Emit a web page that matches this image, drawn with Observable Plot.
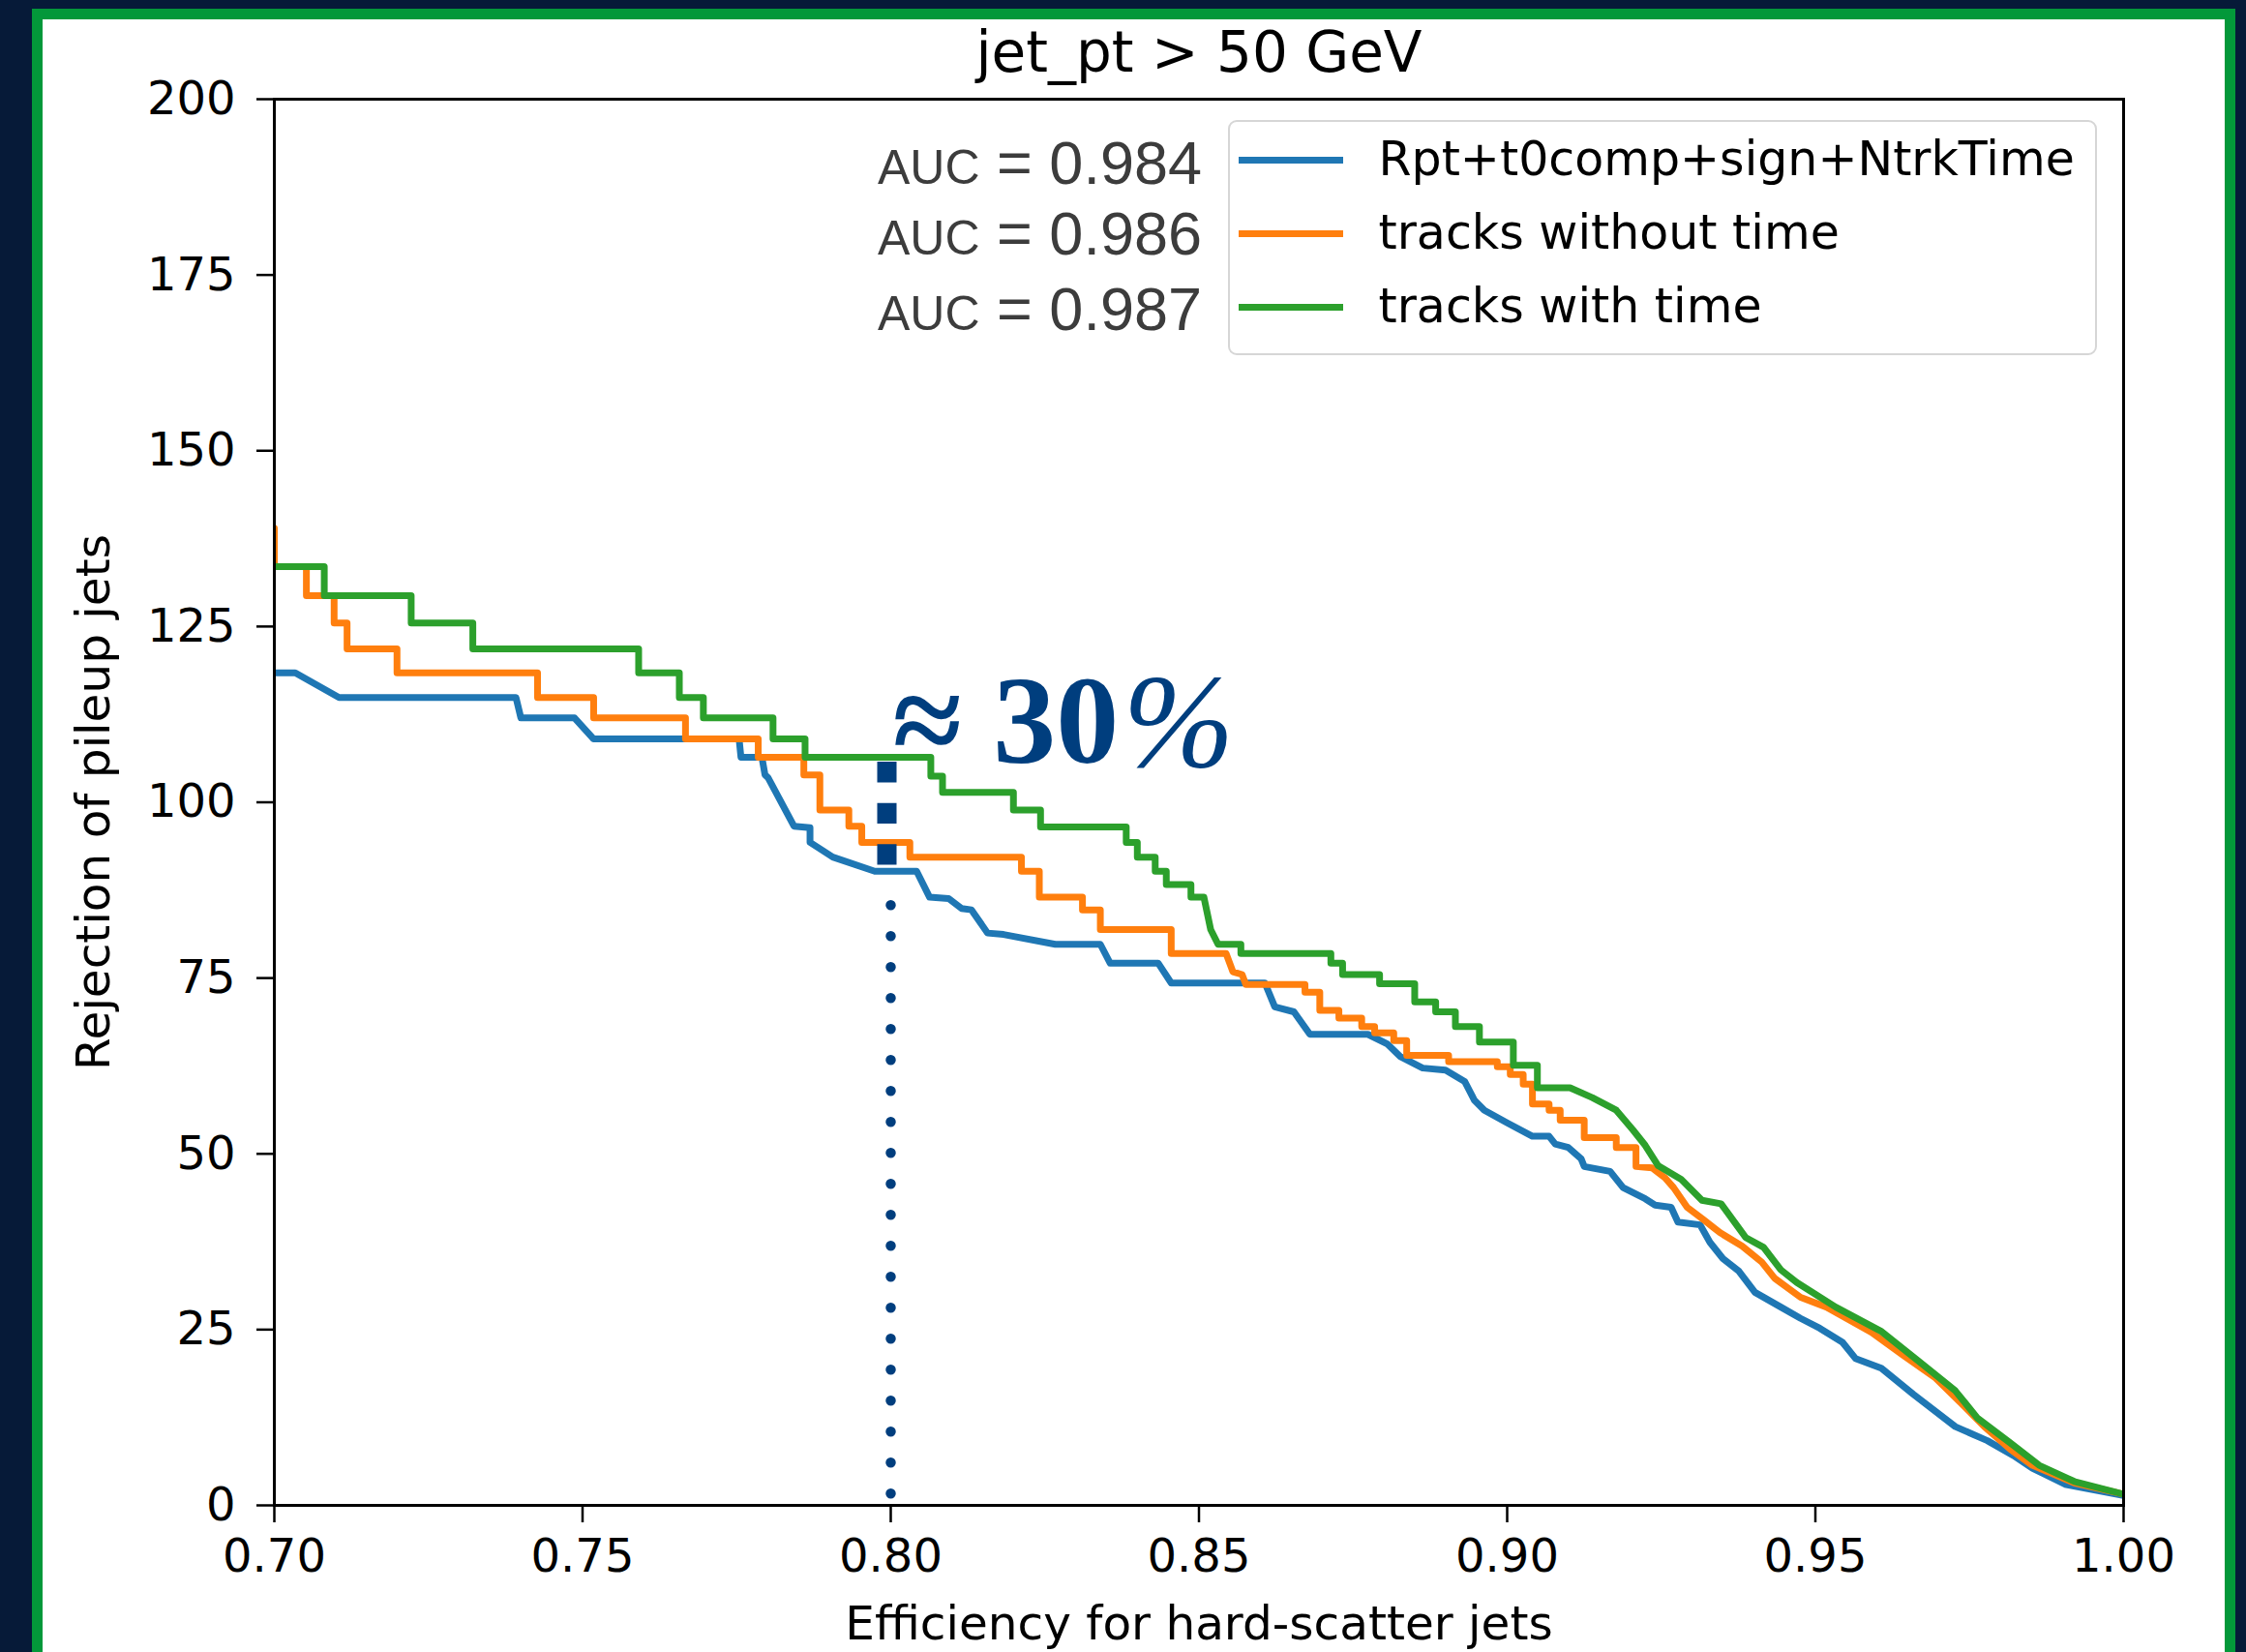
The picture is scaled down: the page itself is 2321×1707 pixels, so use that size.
<!DOCTYPE html>
<html>
<head>
<meta charset="utf-8">
<script src="https://cdn.jsdelivr.net/npm/d3@7"></script>
<script src="https://cdn.jsdelivr.net/npm/@observablehq/plot@0.6"></script>
<style>
  html, body { margin: 0; padding: 0; }
  body {
    width: 2321px; height: 1707px; position: relative; overflow: hidden;
    background: #061a38;
    font-family: "DejaVu Sans", sans-serif;
  }
  #panel {
    position: absolute; left: 33px; top: 9px; width: 2277px; height: 1760px;
    box-sizing: border-box; border: 11px solid #03983a; background: #ffffff;
  }
  #chart { position: absolute; left: 44px; top: 20px; width: 2255px; }
  #legend {
    position: absolute; left: 1269px; top: 124px; width: 898px; height: 243px;
    box-sizing: border-box; border: 2.5px solid #d6d6d6; border-radius: 9px;
    background: rgba(255, 255, 255, 0.8);
  }
  #legend .swatch { position: absolute; left: 8.5px; width: 108px; height: 7.5px; }
  #legend .label {
    position: absolute; left: 153.5px; white-space: nowrap;
    font-family: "DejaVu Sans", sans-serif; font-size: 49px; line-height: 1; color: #000;
  }
  .auc {
    position: absolute; right: 1079px; white-space: nowrap; text-align: right;
    font-family: "Liberation Sans", Arial, sans-serif; font-size: 63px; line-height: 1; color: #3c3c3c;
  }
  .auc .key { font-size: 50px; }
</style>
</head>
<body>
<div id="panel"></div>
<div id="chart"></div>
<script>
// Axis ticks
const xTicks = [0.70, 0.75, 0.80, 0.85, 0.90, 0.95, 1.00];
const yTicks = [0, 25, 50, 75, 100, 125, 150, 175, 200];

// Series
const seriesNames = ["Rpt+t0comp+sign+NtrkTime", "tracks without time", "tracks with time"];
const seriesColors = ["#1f77b4", "#ff7f0e", "#2ca02c"];
const aucValues = [0.984, 0.986, 0.987];

// ROC curves: [hard-scatter efficiency, pileup rejection]
const rptCurve = [
  [0.700,118.4],[0.7034,118.4],[0.7105,114.9],[0.7392,114.9],[0.7400,112.0],[0.7487,112.0],
  [0.7518,109.0],[0.7754,109.0],[0.7757,106.4],[0.7791,106.4],[0.7796,103.9],[0.7801,103.5],
  [0.7843,96.6],[0.7869,96.4],[0.7869,94.3],[0.7906,92.2],[0.7974,90.2],[0.8042,90.2],
  [0.8063,86.5],[0.8094,86.3],[0.8115,84.9],[0.8131,84.7],[0.8157,81.4],[0.8183,81.2],
  [0.8267,79.8],[0.8340,79.8],[0.8356,77.1],[0.8434,77.1],[0.8455,74.3],[0.8607,74.3],
  [0.8623,70.9],[0.8654,70.2],[0.8680,67.0],[0.8774,67.0],[0.8806,65.6],[0.8827,63.8],
  [0.8863,62.2],[0.8900,61.9],[0.8931,60.3],[0.8947,57.6],[0.8963,56.2],[0.9000,54.4],
  [0.9041,52.5],[0.9068,52.5],[0.9078,51.4],[0.9099,50.9],[0.9120,49.3],[0.9125,48.2],
  [0.9167,47.5],[0.9188,45.2],[0.9224,43.6],[0.9240,42.7],[0.9266,42.4],[0.9277,40.3],
  [0.9313,39.9],[0.9329,37.4],[0.9350,35.1],[0.9376,33.3],[0.9402,30.3],[0.9444,28.2],
  [0.9476,26.6],[0.9507,25.2],[0.9544,23.2],[0.9565,20.9],[0.9607,19.5],[0.9659,15.8],
  [0.9727,11.2],[0.9779,9.2],[0.9821,7.1],[0.9852,5.3],[0.9905,3.0],[1.000,1.4]
];
const noTimeCurve = [
  [0.700,139.0],[0.700,133.5],[0.7052,133.5],[0.7052,129.4],[0.7097,129.4],[0.7097,125.5],
  [0.7118,125.5],[0.7118,121.8],[0.7199,121.8],[0.7199,118.4],[0.7427,118.4],[0.7427,114.9],
  [0.7518,114.9],[0.7518,112.0],[0.7667,112.0],[0.7667,109.0],[0.7785,109.0],[0.7785,106.4],
  [0.7859,106.4],[0.7859,103.9],[0.7885,103.9],[0.7885,98.9],[0.7932,98.9],[0.7932,96.6],
  [0.7953,96.6],[0.7953,94.3],[0.8031,94.3],[0.8031,92.2],[0.8212,92.2],[0.8212,90.2],
  [0.8241,90.2],[0.8241,86.5],[0.8311,86.5],[0.8311,84.7],[0.8340,84.7],[0.8340,81.9],
  [0.8455,81.9],[0.8455,78.5],[0.8544,78.5],[0.8555,75.9],[0.8570,75.5],[0.8576,74.1],
  [0.8672,74.1],[0.8672,73.0],[0.8696,73.0],[0.8696,70.4],[0.8727,70.4],[0.8727,69.3],
  [0.8764,69.3],[0.8764,68.1],[0.8785,68.1],[0.8785,67.2],[0.8816,67.2],[0.8816,66.1],
  [0.8837,66.1],[0.8837,64.0],[0.8905,64.0],[0.8905,63.1],[0.8984,63.1],[0.8984,62.4],
  [0.9005,62.4],[0.9005,61.3],[0.9026,61.3],[0.9026,59.9],[0.9041,59.9],[0.9041,57.1],
  [0.9068,57.1],[0.9068,56.2],[0.9086,56.2],[0.9086,54.8],[0.9125,54.8],[0.9125,52.3],
  [0.9177,52.3],[0.9177,50.9],[0.9209,50.9],[0.9209,48.2],[0.9235,48.0],[0.9256,46.6],
  [0.9270,45.2],[0.9292,42.4],[0.9319,40.6],[0.9345,38.8],[0.9381,36.9],[0.9413,34.6],
  [0.9434,32.3],[0.9476,29.6],[0.9518,28.2],[0.9591,24.6],[0.9643,21.3],[0.9695,18.1],
  [0.9737,14.5],[0.9774,11.2],[0.9816,8.0],[0.9852,5.7],[0.9920,3.2],[1.000,1.6]
];
const timeCurve = [
  [0.700,133.5],[0.7081,133.5],[0.7081,129.4],[0.7222,129.4],[0.7222,125.5],[0.7322,125.5],
  [0.7322,121.8],[0.7591,121.8],[0.7591,118.4],[0.7657,118.4],[0.7657,114.9],[0.7696,114.9],
  [0.7696,112.0],[0.7809,112.0],[0.7809,109.0],[0.7861,109.0],[0.7861,106.4],[0.8065,106.4],
  [0.8065,103.7],[0.8084,103.7],[0.8084,101.4],[0.8199,101.4],[0.8199,98.9],[0.8243,98.9],
  [0.8243,96.5],[0.8382,96.5],[0.8382,94.3],[0.8400,94.3],[0.8400,92.2],[0.8429,92.2],
  [0.8429,90.2],[0.8447,90.2],[0.8447,88.3],[0.8487,88.3],[0.8487,86.5],[0.8508,86.5],
  [0.8519,81.9],[0.8531,79.8],[0.8568,79.8],[0.8568,78.5],[0.8714,78.5],[0.8714,77.1],
  [0.8733,77.1],[0.8733,75.5],[0.8793,75.5],[0.8793,74.2],[0.8850,74.2],[0.8850,71.6],
  [0.8884,71.6],[0.8884,70.2],[0.8916,70.2],[0.8916,68.1],[0.8955,68.1],[0.8955,65.9],
  [0.9010,65.9],[0.9010,62.6],[0.9049,62.6],[0.9049,59.4],[0.9102,59.4],[0.9138,58.0],
  [0.9177,56.2],[0.9204,53.4],[0.9224,51.2],[0.9245,48.3],[0.9282,46.4],[0.9316,43.4],
  [0.9347,42.9],[0.9387,38.1],[0.9416,36.7],[0.9444,33.5],[0.9470,31.7],[0.9533,28.2],
  [0.9606,24.8],[0.9669,20.4],[0.9727,16.3],[0.9763,12.4],[0.9816,8.9],[0.9863,5.7],
  [0.9920,3.4],[1.000,1.6]
];

// Rejection gap between the timing and baseline taggers at 80% efficiency
const gapAt = [{eff: 0.80, top: 105.7, bottom: 91.0, dotsFrom: 85.3, floor: 0}];
const gapText = ["≈ 30", "%"];

const titleText = "jet_pt > 50 GeV";
const xLabel = "Efficiency for hard-scatter jets";
const yLabel = "Rejection of pileup jets";

const rows = [rptCurve, noTimeCurve, timeCurve].flatMap((curve, i) =>
  curve.map(([eff, rej]) => ({series: seriesNames[i], eff, rej}))
);

const ink = "#003e7e";

const chart = Plot.plot({
  width: 2255,
  height: 1687,
  marginLeft: 239,
  marginRight: 105,
  marginTop: 82,
  marginBottom: 152,
  style: {background: "transparent", fontFamily: "'DejaVu Sans', sans-serif", fontSize: "48px", color: "#000"},
  x: {domain: [0.7, 1.0]},
  y: {domain: [0, 200]},
  color: {domain: seriesNames, range: seriesColors},
  marks: [
    ...seriesNames.map((name) =>
      Plot.line(rows.filter((d) => d.series === name), {
        x: "eff", y: "rej", stroke: "series", strokeWidth: 7,
        strokeLinejoin: "round", clip: true
      })
    ),
    // heavy dashes spanning the gap, then the dotted drop to the axis
    Plot.ruleX(gapAt, {x: "eff", y1: "top", y2: "bottom", stroke: ink, strokeWidth: 20,
      strokeDasharray: "21.3 21.3", dx: -4}),
    Plot.ruleX(gapAt, {x: "eff", y1: "dotsFrom", y2: "floor", stroke: ink, strokeWidth: 10.5,
      strokeLinecap: "round", strokeDasharray: "0 32"}),
    Plot.text(gapAt, {x: "eff", y: "top", text: () => gapText[0], textAnchor: "start",
      lineAnchor: "bottom", dx: 2, fontFamily: "'Liberation Serif', 'Times New Roman', serif",
      fontWeight: "bold", fontSize: 130, fill: ink}),
    Plot.text(gapAt, {x: "eff", y: "top", text: () => gapText[1], textAnchor: "start",
      lineAnchor: "bottom", dx: 240, dy: 4, fontFamily: "'Liberation Serif', 'Times New Roman', serif",
      fontStyle: "italic", fontSize: 138, fill: ink}),
    Plot.axisX({ticks: xTicks, tickFormat: d3.format(".2f"), tickSize: 18, tickPadding: 16,
      label: null, strokeWidth: 2.5, fontSize: 48}),
    Plot.axisY({ticks: yTicks, tickSize: 18, tickPadding: 22, label: null, strokeWidth: 2.5, fontSize: 48}),
    Plot.frame({stroke: "#000", strokeWidth: 3}),
    Plot.text([titleText], {text: (d) => d, frameAnchor: "top", dy: -29, lineAnchor: "bottom", fontSize: 58}),
    Plot.text([xLabel], {text: (d) => d, frameAnchor: "bottom", dy: 138, lineAnchor: "bottom", fontSize: 48.5}),
    Plot.text([yLabel], {text: (d) => d, frameAnchor: "left", dx: -171, rotate: -90,
      textAnchor: "middle", lineAnchor: "bottom", fontSize: 48.5})
  ]
});
document.getElementById("chart").append(chart);

// Legend box with line swatches
const legend = document.createElement("div");
legend.id = "legend";
const rowTop = 39.5, rowStep = 76;
seriesNames.forEach((name, i) => {
  const sw = document.createElement("div");
  sw.className = "swatch";
  sw.style.top = (rowTop + i * rowStep - 3.75) + "px";
  sw.style.background = seriesColors[i];
  const lab = document.createElement("div");
  lab.className = "label";
  lab.style.top = (rowTop + i * rowStep + 15.5 - 41.4) + "px";
  lab.textContent = name;
  legend.append(sw, lab);
});
document.body.append(legend);

// AUC values beside the legend rows
const aucBaselines = [190, 263, 341];
aucValues.forEach((v, i) => {
  const div = document.createElement("div");
  div.className = "auc";
  div.style.top = (aucBaselines[i] - 53.3) + "px";
  const key = document.createElement("span");
  key.className = "key";
  key.textContent = "AUC";
  div.append(key, document.createTextNode(" = " + v.toFixed(3)));
  document.body.append(div);
});
</script>
</body>
</html>
